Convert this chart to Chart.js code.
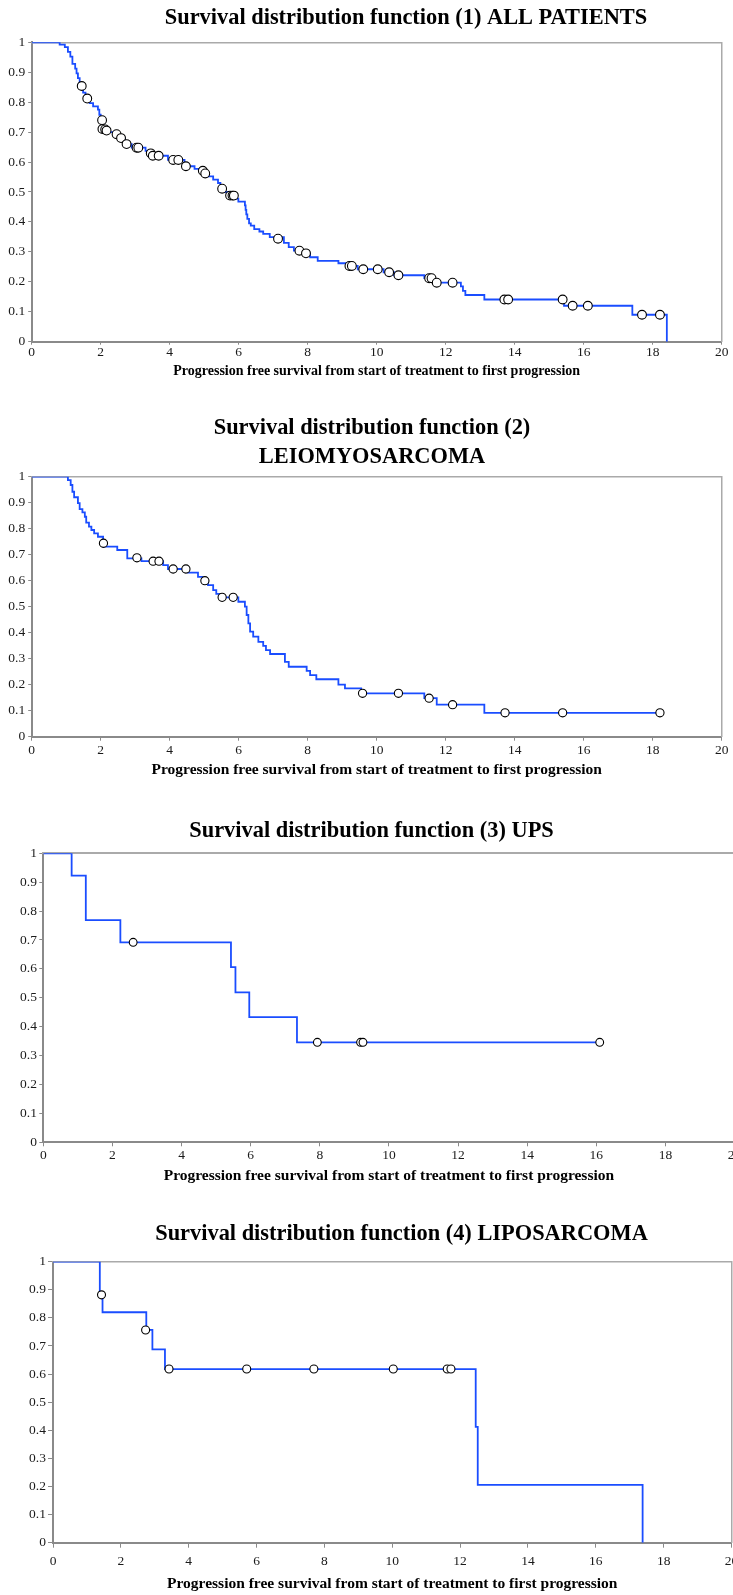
<!DOCTYPE html>
<html>
<head>
<meta charset="utf-8">
<title>Survival distribution functions</title>
<script src="https://cdn.jsdelivr.net/npm/chart.js@4.4.1/dist/chart.umd.min.js"></script>
<style>
  html, body { margin: 0; padding: 0; background: #fff; }
  body { width: 733px; height: 1595px; overflow: hidden; position: relative; }
  .box { position: absolute; left: 0; }
  canvas { display: block; }
</style>
</head>
<body>
<div class="box" style="top:0px"><canvas id="km1" width="812" height="380"></canvas></div>
<div class="box" style="top:390px"><canvas id="km2" width="744" height="389"></canvas></div>
<div class="box" style="top:790px"><canvas id="km3" width="743" height="395"></canvas></div>
<div class="box" style="top:1190px"><canvas id="km4" width="803" height="403"></canvas></div>

<script>
// tick labels
const xTickLabels = ['0', '2', '4', '6', '8', '10', '12', '14', '16', '18', '20'];
const yTickLabels = ['0', '0.1', '0.2', '0.3', '0.4', '0.5', '0.6', '0.7', '0.8', '0.9', '1'];
const xTitle = 'Progression free survival from start of treatment to first progression';

// (1) ALL PATIENTS - step points (time, survival after the drop)
const allTimes = [0, 0.81, 0.96, 1.05, 1.12, 1.18, 1.26, 1.30, 1.34, 1.39,
  1.49, 1.56, 1.68, 1.78, 1.92, 1.96, 2.00, 2.05, 2.20, 2.40,
  2.55, 2.70, 2.90, 3.30, 3.42, 3.49, 3.95, 4.43, 4.72, 4.90,
  5.00, 5.11, 5.26, 5.40, 5.47, 5.60, 5.70, 5.92, 5.99, 6.18,
  6.20, 6.22, 6.25, 6.30, 6.35, 6.45, 6.60, 6.71, 6.90, 7.31,
  7.45, 7.60, 7.85, 8.07, 8.29, 8.89, 9.15, 9.45, 10.20, 10.50,
  11.38, 11.65, 12.44, 12.50, 12.57, 13.12, 15.43, 17.41, 18.41];
const allSurv = [1, 0.992, 0.984, 0.968, 0.952, 0.928, 0.912, 0.896, 0.880, 0.860,
  0.832, 0.812, 0.797, 0.786, 0.775, 0.758, 0.742, 0.710, 0.700, 0.691,
  0.680, 0.660, 0.648, 0.637, 0.629, 0.621, 0.607, 0.586, 0.577, 0.571,
  0.562, 0.552, 0.541, 0.530, 0.511, 0.500, 0.488, 0.478, 0.468, 0.455,
  0.440, 0.425, 0.410, 0.395, 0.388, 0.376, 0.368, 0.360, 0.349, 0.330,
  0.316, 0.304, 0.295, 0.282, 0.270, 0.262, 0.253, 0.242, 0.232, 0.222,
  0.212, 0.197, 0.185, 0.170, 0.156, 0.141, 0.120, 0.090, 0];
const allCensTimes = [1.45, 1.61, 2.04, 2.05, 2.13, 2.17, 2.46, 2.59, 2.75, 3.04, 3.09,
  3.45, 3.51, 3.68, 4.10, 4.25, 4.47, 4.96, 5.03, 5.52, 5.75, 5.82, 5.86,
  7.14, 7.76, 7.95, 9.21, 9.28, 9.61, 10.03, 10.36, 10.63, 11.52, 11.59, 11.74, 12.20,
  13.70, 13.81, 15.39, 15.68, 16.12, 17.69, 18.21];
const allCensSurv = [0.854, 0.812, 0.740, 0.710, 0.709, 0.705, 0.693, 0.680, 0.660, 0.648, 0.648,
  0.629, 0.621, 0.621, 0.607, 0.607, 0.586, 0.571, 0.562, 0.511, 0.488, 0.488, 0.488,
  0.344, 0.304, 0.295, 0.253, 0.253, 0.242, 0.242, 0.232, 0.222, 0.212, 0.212, 0.197, 0.197,
  0.141, 0.141, 0.141, 0.120, 0.120, 0.090, 0.090];

// (2) LEIOMYOSARCOMA
const lmsTimes = [0, 1.05, 1.13, 1.18, 1.23, 1.34, 1.39, 1.47, 1.54, 1.58,
  1.66, 1.73, 1.81, 1.92, 2.07, 2.48, 2.77, 3.18, 3.81, 3.95,
  4.53, 4.82, 4.95, 5.11, 5.26, 5.35, 5.45, 5.99, 6.18, 6.23,
  6.28, 6.33, 6.42, 6.57, 6.71, 6.79, 6.91, 7.34, 7.45, 7.97,
  8.07, 8.25, 8.89, 9.08, 9.55, 11.38, 11.74, 13.12, 18.21];
const lmsSurv = [1, 0.987, 0.968, 0.942, 0.921, 0.898, 0.875, 0.863, 0.846, 0.823,
  0.808, 0.795, 0.782, 0.769, 0.731, 0.718, 0.686, 0.675, 0.660, 0.645,
  0.631, 0.615, 0.600, 0.583, 0.564, 0.549, 0.536, 0.519, 0.500, 0.468,
  0.436, 0.404, 0.385, 0.365, 0.349, 0.333, 0.318, 0.288, 0.269, 0.253,
  0.237, 0.221, 0.200, 0.186, 0.167, 0.148, 0.123, 0.092, 0.092];
const lmsCensTimes = [2.08, 3.05, 3.52, 3.69, 4.10, 4.47, 5.02, 5.52, 5.84,
  9.59, 10.63, 11.52, 12.20, 13.72, 15.39, 18.21];
const lmsCensSurv = [0.744, 0.688, 0.675, 0.675, 0.645, 0.645, 0.600, 0.536, 0.536,
  0.167, 0.167, 0.148, 0.123, 0.092, 0.092, 0.092];

// (3) UPS
const upsTimes = [0, 0.82, 1.23, 2.23, 5.43, 5.56, 5.96, 7.34, 16.10];
const upsSurv = [1, 0.923, 0.769, 0.692, 0.606, 0.519, 0.433, 0.346, 0.346];
const upsCensTimes = [2.60, 7.93, 9.18, 9.25, 16.10];
const upsCensSurv = [0.692, 0.346, 0.346, 0.346, 0.346];

// (4) LIPOSARCOMA
const lipoTimes = [0, 1.38, 1.46, 2.75, 2.93, 3.30, 12.46, 12.52, 17.38];
const lipoSurv = [1, 0.882, 0.820, 0.757, 0.688, 0.618, 0.412, 0.206, 0];
const lipoCensTimes = [1.43, 2.73, 3.42, 5.71, 7.69, 10.03, 11.62, 11.73];
const lipoCensSurv = [0.882, 0.757, 0.618, 0.618, 0.618, 0.618, 0.618, 0.618];

const serif = '"Liberation Serif", "Times New Roman", serif';
const blue = '#1a4dff';
const axisGrey = '#8a8a8a';
const frameGrey = '#aaaaaa';

function toPoints(xs, ys) {
    return xs.map((x, i) => ({ x: x, y: ys[i] }));
}

function drawKM(id, title, times, surv, censTimes, censSurv, lay) {
    new Chart(document.getElementById(id), {
        type: 'scatter',
        data: {
            datasets: [{
                // censored observations
                data: toPoints(censTimes, censSurv),
                pointStyle: 'circle',
                pointRadius: lay.dot,
                pointHoverRadius: lay.dot,
                pointBackgroundColor: '#ffffff',
                pointBorderColor: '#000000',
                pointBorderWidth: 1.1,
            }, {
                type: 'line',
                data: toPoints(times, surv),
                stepped: true,
                borderColor: blue,
                borderWidth: 1.8,
                pointRadius: 0,
                fill: false,
            }]
        },
        options: {
            responsive: false,
            animation: false,
            devicePixelRatio: 1,
            layout: { padding: 0 },
            plugins: {
                legend: { display: false },
                tooltip: { enabled: false },
                title: {
                    display: true,
                    text: title,
                    color: '#000',
                    font: { family: serif, size: 22.4, weight: 'bold', lineHeight: lay.titleLH },
                    padding: { top: lay.titleTop, bottom: lay.titleBottom }
                }
            },
            scales: {
                x: {
                    type: 'linear',
                    position: 'bottom',
                    min: 0,
                    max: 20,
                    afterFit: (s) => { s.height = lay.xh; },
                    ticks: {
                        stepSize: 2,
                        padding: lay.xPad,
                        maxRotation: 0,
                        autoSkip: false,
                        color: '#1a1a1a',
                        font: { family: serif, size: 13.5 },
                        callback: (v, i) => xTickLabels[i]
                    },
                    grid: { drawOnChartArea: false, tickLength: lay.xTick, color: axisGrey, tickWidth: 1 },
                    border: { color: axisGrey, width: 2 },
                    title: {
                        display: true,
                        text: xTitle,
                        color: '#000',
                        font: { family: serif, size: lay.xTitleSize, weight: 'bold' },
                        padding: { top: 0, bottom: 0 }
                    }
                },
                y: {
                    type: 'linear',
                    position: 'left',
                    min: 0,
                    max: 1,
                    afterFit: (s) => { s.width = lay.left; },
                    ticks: {
                        stepSize: 0.1,
                        padding: lay.yPad,
                        color: '#1a1a1a',
                        font: { family: serif, size: 13.5 },
                        callback: (v, i) => yTickLabels[i]
                    },
                    grid: { drawOnChartArea: false, tickLength: lay.yTick, color: axisGrey, tickWidth: 1 },
                    border: { color: axisGrey, width: 2 }
                },
                // frame lines on top and right
                x2: {
                    type: 'linear',
                    position: 'top',
                    afterFit: (s) => { s.height = 0; },
                    ticks: { display: false },
                    grid: { display: false, drawTicks: false },
                    border: { color: frameGrey, width: lay.frame }
                },
                y2: {
                    type: 'linear',
                    position: 'right',
                    afterFit: (s) => { s.width = lay.extra; },
                    ticks: { display: false },
                    grid: { display: false, drawTicks: false },
                    border: { color: frameGrey, width: lay.frame }
                }
            }
        }
    });
}

drawKM('km1', 'Survival distribution function (1) ALL PATIENTS',
    allTimes, allSurv, allCensTimes, allCensSurv,
    { left: 31.7, extra: 90.3, titleLH: 1.2, titleTop: 4.4, titleBottom: 11.0, xh: 38.3,
      xTick: 3, xPad: 0, yTick: 3.5, yPad: 3, xTitleSize: 14, dot: 4.4, frame: 1.5 });

drawKM('km2', ['Survival distribution function (2)', 'LEIOMYOSARCOMA'],
    lmsTimes, lmsSurv, lmsCensTimes, lmsCensSurv,
    { left: 31.7, extra: 22.3, titleLH: 1.29, titleTop: 23.4, titleBottom: 5.5, xh: 42.3,
      xTick: 4, xPad: 1.2, yTick: 3.5, yPad: 3, xTitleSize: 15.5, dot: 4.1, frame: 1.5 });

drawKM('km3', 'Survival distribution function (3) UPS',
    upsTimes, upsSurv, upsCensTimes, upsCensSurv,
    { left: 43.3, extra: 8.5, titleLH: 1.2, titleTop: 27.4, titleBottom: 9.0, xh: 42.7,
      xTick: 4, xPad: 0.8, yTick: 4, yPad: 2.4, xTitleSize: 15.5, dot: 3.9, frame: 2 });

drawKM('km4', 'Survival distribution function (4) LIPOSARCOMA',
    lipoTimes, lipoSurv, lipoCensTimes, lipoCensSurv,
    { left: 53, extra: 71.5, titleLH: 1.2, titleTop: 30.8, titleBottom: 14.0, xh: 50.3,
      xTick: 5, xPad: 5.7, yTick: 5, yPad: 2.1, xTitleSize: 15.5, dot: 4, frame: 1.5 });
</script>
</body>
</html>
